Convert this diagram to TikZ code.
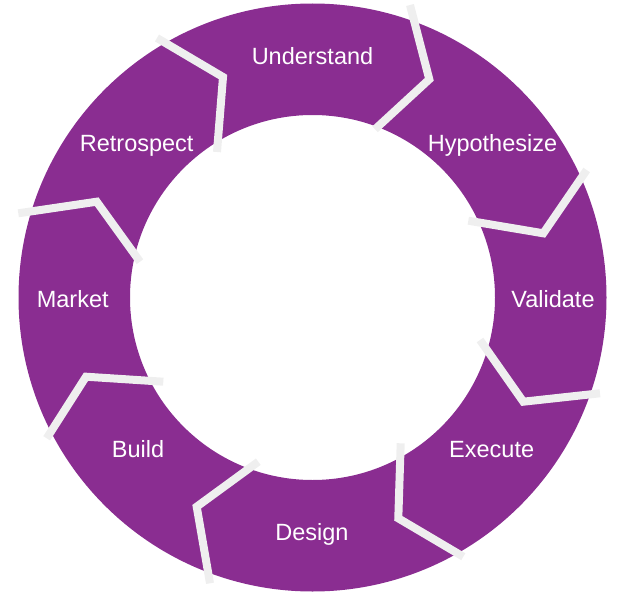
\documentclass[tikz,border=0pt]{standalone}
\usepackage{fontspec}
\setmainfont{Liberation Sans}
\definecolor{ringpurple}{RGB}{138,45,145}
\definecolor{seamgray}{RGB}{239,239,239}
\begin{document}
\begin{tikzpicture}[x=1pt,y=-1pt,
  seam/.style={draw=seamgray,line width=8pt,line join=miter,line cap=butt},
  phase/.style={text=white,font=\fontsize{23.5pt}{27pt}\selectfont,anchor=base,inner sep=0pt}]
\useasboundingbox (0,0) rectangle (627,594);
% ring
\coordinate (c) at (312.5,297.5);
\fill[ringpurple,even odd rule] (c) circle[radius=294] (c) circle[radius=182.5];
% chevron seams between the phases
\draw[seam] (18.3,213.3) -- (96.7,201.7) -- (140,261.7);
\draw[seam] (157,38) -- (223,77) -- (217,152);
\draw[seam] (410,5) -- (429.3,79.3) -- (375,129.3);
\draw[seam] (586.7,170) -- (543.3,233.3) -- (468.3,220.7);
\draw[seam] (600,393.3) -- (523.3,401.7) -- (480,340);
\draw[seam] (463.3,556.7) -- (398.3,518.3) -- (400.7,443.3);
\draw[seam] (210,583.3) -- (196.7,506.7) -- (258.3,461.7);
\draw[seam] (46.7,438.3) -- (86,376.7) -- (163.3,381.7);
% phase labels
\node[phase] (understand) at (312.5,65) {Understand};
\node[phase] (hypothesize) at (492.5,151.5) {Hypothesize};
\node[phase] (validate) at (553,307.7) {Validate};
\node[phase] (execute) at (491.7,457.3) {Execute};
\node[phase] (design) at (312,540) {Design};
\node[phase] (build) at (138,457) {Build};
\node[phase] (market) at (72.7,307.7) {Market};
\node[phase] (retrospect) at (136.7,151) {Retrospect};
\end{tikzpicture}
\end{document}
